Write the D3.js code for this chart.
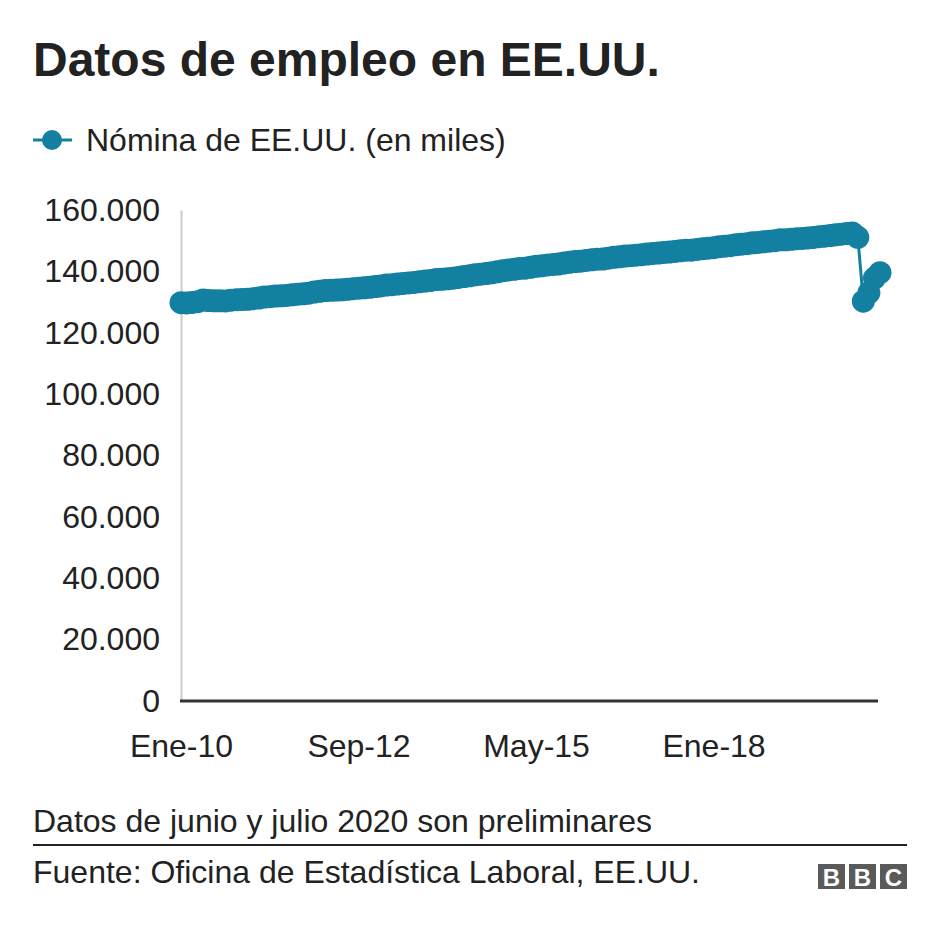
<!DOCTYPE html>
<html>
<head>
<meta charset="utf-8">
<script src="https://cdn.jsdelivr.net/npm/d3@7"></script>
<style>
  html, body { margin: 0; padding: 0; background: #fff; }
  svg { display: block; font-family: "Liberation Sans", Arial, Helvetica, sans-serif; }
</style>
</head>
<body>
<svg id="chart" width="940" height="932"></svg>
<script>
// ---- Data (US nonfarm payroll, thousands, Jan 2010 – Jul 2020) ----
const monthNames = ["Ene","Feb","Mar","Abr","May","Jun","Jul","Ago","Sep","Oct","Nov","Dic"];
const years = ["10","11","12","13","14","15","16","17","18","19","20"];
const categories = [];
years.forEach(y => monthNames.forEach(m => categories.push(m + "-" + y)));
categories.splice(127); // through Jul-20

const values = [
  // 2010
  129798,129706,129865,130120,130634,130492,130424,130411,130354,130622,130763,130853,
  // 2011
  130889,131090,131323,131635,131737,131962,132040,132151,132375,132550,132685,132896,
  // 2012
  133256,133520,133762,133837,133932,134004,134163,134345,134523,134660,134820,135063,
  // 2013
  135261,135533,135663,135854,136081,136247,136391,136649,136840,137064,137334,137399,
  // 2014
  137590,137762,138034,138330,138562,138865,139091,139289,139547,139869,140214,140477,
  // 2015
  140680,140945,141033,141311,141642,141830,142107,142244,142380,142728,142933,143186,
  // 2016
  143319,143555,143773,143959,144000,144282,144599,144750,145000,145120,145277,145427,
  // 2017
  145644,145840,145960,146156,146294,146504,146686,146887,146899,147146,147395,147571,
  // 2018
  147736,148060,148215,148391,148661,148856,149032,149305,149410,149654,149825,150006,
  // 2019
  150273,150271,150438,150669,150731,150909,151075,151294,151486,151671,151932,152115,
  // 2020
  152329,152523,151090,130303,133028,137809,139572
];

const xTickLabels = ["Ene-10","Sep-12","May-15","Ene-18"];
const yTicks = [0,20000,40000,60000,80000,100000,120000,140000,160000];

const title = "Datos de empleo en EE.UU.";
const seriesName = "Nómina de EE.UU. (en miles)";
const note = "Datos de junio y julio 2020 son preliminares";
const source = "Fuente: Oficina de Estadística Laboral, EE.UU.";

// ---- Drawing ----
const color = "#1380A1";
const svg = d3.select("#chart");

const x = d3.scalePoint().domain(categories).range([181, 880]);
const y = d3.scaleLinear().domain([0, 160000]).range([701, 210]);

const locale = d3.formatLocale({decimal: ",", thousands: ".", grouping: [3], currency: ["", ""]});
const fmt = locale.format(",");

// Title
svg.append("text")
  .attr("x", 33).attr("y", 76)
  .attr("font-size", 48).attr("font-weight", "bold").attr("fill", "#222")
  .text(title);

// Legend
const lg = svg.append("g");
lg.append("line").attr("x1", 33).attr("x2", 72).attr("y1", 140).attr("y2", 140)
  .attr("stroke", color).attr("stroke-width", 3);
lg.append("circle").attr("cx", 52).attr("cy", 140).attr("r", 10).attr("fill", color);
lg.append("text").attr("x", 86).attr("y", 140).attr("dy", "0.35em")
  .attr("font-size", 32).attr("fill", "#222").text(seriesName);

// Y axis
const yAxis = svg.append("g")
  .attr("transform", "translate(181,0)")
  .call(d3.axisLeft(y).tickValues(yTicks).tickFormat(fmt).tickSize(0).tickPadding(21));
yAxis.select(".domain").attr("stroke", "#cccccc").attr("stroke-width", 2);
yAxis.selectAll("text").attr("font-size", 32).attr("fill", "#222")
  .attr("font-family", "Liberation Sans, Arial, sans-serif");

// X axis
const xAxis = svg.append("g")
  .attr("transform", "translate(0,701)")
  .call(d3.axisBottom(x).tickValues(xTickLabels).tickSize(0).tickPadding(33));
xAxis.select(".domain").remove();
xAxis.selectAll("text").attr("font-size", 32).attr("fill", "#222")
  .attr("font-family", "Liberation Sans, Arial, sans-serif");

// Baseline
svg.append("line")
  .attr("x1", 180).attr("x2", x(categories[categories.length - 1]) - 2)
  .attr("y1", y(0)).attr("y2", y(0))
  .attr("stroke", "#333").attr("stroke-width", 3);

// Line + markers
const pts = categories.map((c, i) => ({c, v: values[i]}));
svg.append("path")
  .datum(pts)
  .attr("fill", "none").attr("stroke", color).attr("stroke-width", 3)
  .attr("d", d3.line().x(d => x(d.c)).y(d => y(d.v)));
svg.append("g").selectAll("circle").data(pts).join("circle")
  .attr("cx", d => x(d.c)).attr("cy", d => y(d.v)).attr("r", 11.5).attr("fill", color);

// Footer
svg.append("text").attr("x", 33).attr("y", 832)
  .attr("font-size", 32).attr("fill", "#222").text(note);
svg.append("line").attr("x1", 33).attr("x2", 907).attr("y1", 845).attr("y2", 845)
  .attr("stroke", "#222").attr("stroke-width", 2);
svg.append("text").attr("x", 33).attr("y", 883)
  .attr("font-size", 32).attr("fill", "#222").text(source);

// BBC logo
const logo = svg.append("g").attr("transform", "translate(818,864)");
["B","B","C"].forEach((ch, i) => {
  logo.append("rect").attr("x", i * 31).attr("y", 0).attr("width", 27).attr("height", 25)
    .attr("fill", "#5a5a5a");
  logo.append("text").attr("x", i * 31 + 13.5).attr("y", 21.5)
    .attr("text-anchor", "middle").attr("font-size", 24).attr("font-weight", "bold")
    .attr("fill", "#fff").text(ch);
});
</script>
</body>
</html>
